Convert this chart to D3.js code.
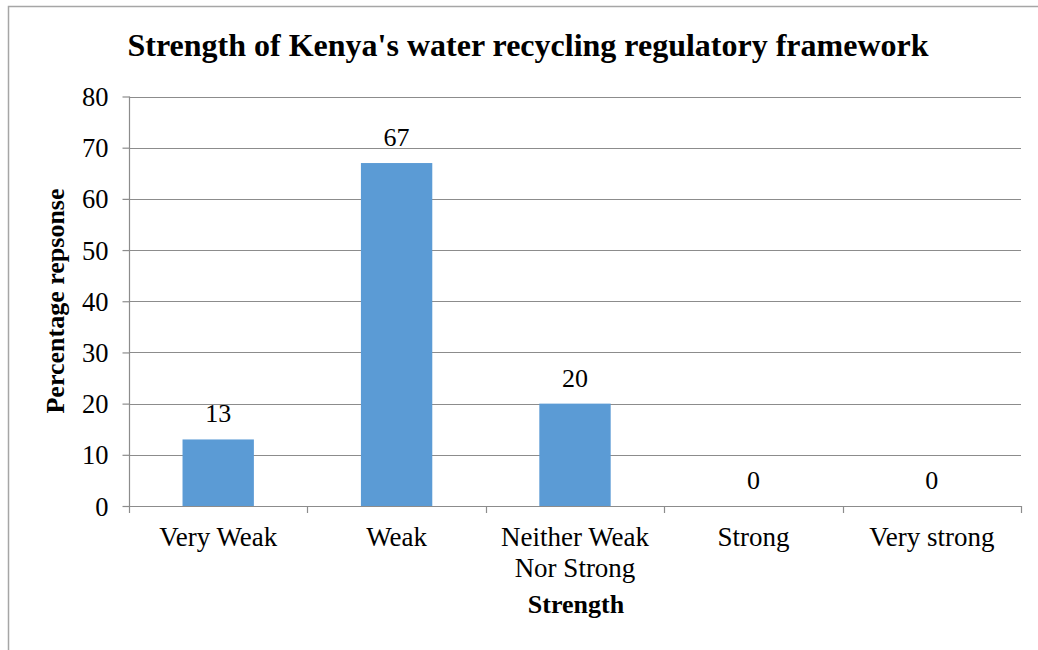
<!DOCTYPE html>
<html>
<head>
<meta charset="utf-8">
<script src="https://cdn.jsdelivr.net/npm/d3@7"></script>
<style>
html, body { margin: 0; padding: 0; background: #fff; }
svg { display: block; }
</style>
</head>
<body>
<svg id="chart" width="1038" height="650"></svg>
<script>
const categories = [["Very Weak"], ["Weak"], ["Neither Weak", "Nor Strong"], ["Strong"], ["Very strong"]];
const values = [13, 67, 20, 0, 0];
const yTicks = [0, 10, 20, 30, 40, 50, 60, 70, 80];
const titleText = "Strength of Kenya's water recycling regulatory framework";
const yTitle = "Percentage repsonse";
const xTitle = "Strength";

(function () {
const svg = d3.select("#chart");
const font = "'Liberation Serif', 'Times New Roman', serif";
const pLeft = 129, pRight = 1021, pTop = 96.5, pBottom = 506;

// outer border
svg.append("rect").attr("x", 8.5).attr("y", 6.5).attr("width", 1040).attr("height", 700)
  .attr("fill", "none").attr("stroke", "#a6a6a6").attr("stroke-width", 1.5);

const keys = categories.map((c, i) => i);
const x = d3.scaleBand().domain(keys).range([pLeft, pRight]).paddingInner(0.6).paddingOuter(0.3);
const y = d3.scaleLinear().domain([0, 80]).range([pBottom, pTop]);

// gridlines
svg.append("g").selectAll("line").data(yTicks.filter(t => t > 0)).join("line")
  .attr("x1", pLeft).attr("x2", pRight)
  .attr("y1", d => Math.round(y(d)) + 0.5).attr("y2", d => Math.round(y(d)) + 0.5)
  .attr("stroke", "#8c8c8c").attr("stroke-width", 1.2);

// bars
svg.append("g").selectAll("rect").data(values).join("rect")
  .attr("x", (d, i) => x(i)).attr("width", x.bandwidth())
  .attr("y", d => y(d)).attr("height", d => pBottom - y(d))
  .attr("fill", "#5b9bd5");

// y axis
const yAxis = d3.axisLeft(y).tickValues(yTicks).tickSize(7).tickPadding(14).tickFormat(d3.format("d"));
const gy = svg.append("g").attr("transform", `translate(${pLeft + 0.5},0)`).call(yAxis);
gy.select(".domain").attr("stroke", "#8c8c8c").attr("stroke-width", 1.2).attr("d", `M0,${pTop}V${pBottom}`);
gy.selectAll(".tick line").attr("stroke", "#8c8c8c").attr("stroke-width", 1.2);
gy.selectAll(".tick text").attr("font-family", font).attr("font-size", 26.5).attr("fill", "#000").attr("dy", "0.34em");

// x axis
const xPos = d3.scaleLinear().domain([0, categories.length]).range([pLeft, pRight]);
const xAxisG = svg.append("g");
xAxisG.append("line").attr("x1", pLeft).attr("x2", pRight).attr("y1", pBottom + 0.5).attr("y2", pBottom + 0.5)
  .attr("stroke", "#8c8c8c").attr("stroke-width", 1.2);
xAxisG.selectAll("line.tk").data(d3.range(categories.length + 1)).join("line").attr("class", "tk")
  .attr("x1", d => Math.round(xPos(d)) + 0.5).attr("x2", d => Math.round(xPos(d)) + 0.5)
  .attr("y1", pBottom).attr("y2", pBottom + 7)
  .attr("stroke", "#8c8c8c").attr("stroke-width", 1.2);

categories.forEach((lines, i) => {
  const t = svg.append("text").attr("font-family", font).attr("font-size", 27).attr("text-anchor", "middle")
    .attr("x", x(i) + x.bandwidth() / 2).attr("y", 546);
  lines.forEach((ln, j) => t.append("tspan").attr("x", x(i) + x.bandwidth() / 2).attr("dy", j === 0 ? 0 : 31).text(ln));
});

// value labels
svg.append("g").selectAll("text").data(values).join("text")
  .attr("font-family", font).attr("font-size", 26).attr("text-anchor", "middle")
  .attr("x", (d, i) => x(i) + x.bandwidth() / 2).attr("y", d => y(d) - 17)
  .text(d => d);

// title
svg.append("text").attr("font-family", font).attr("font-size", 32).attr("font-weight", "bold")
  .attr("text-anchor", "middle").attr("x", 528).attr("y", 56).text(titleText);

// axis titles
svg.append("text").attr("font-family", font).attr("font-size", 26).attr("font-weight", "bold")
  .attr("text-anchor", "middle").attr("transform", "translate(64,301) rotate(-90)").text(yTitle);
svg.append("text").attr("font-family", font).attr("font-size", 26).attr("font-weight", "bold")
  .attr("text-anchor", "middle").attr("x", 576).attr("y", 613).text(xTitle);
})();
</script>
</body>
</html>
